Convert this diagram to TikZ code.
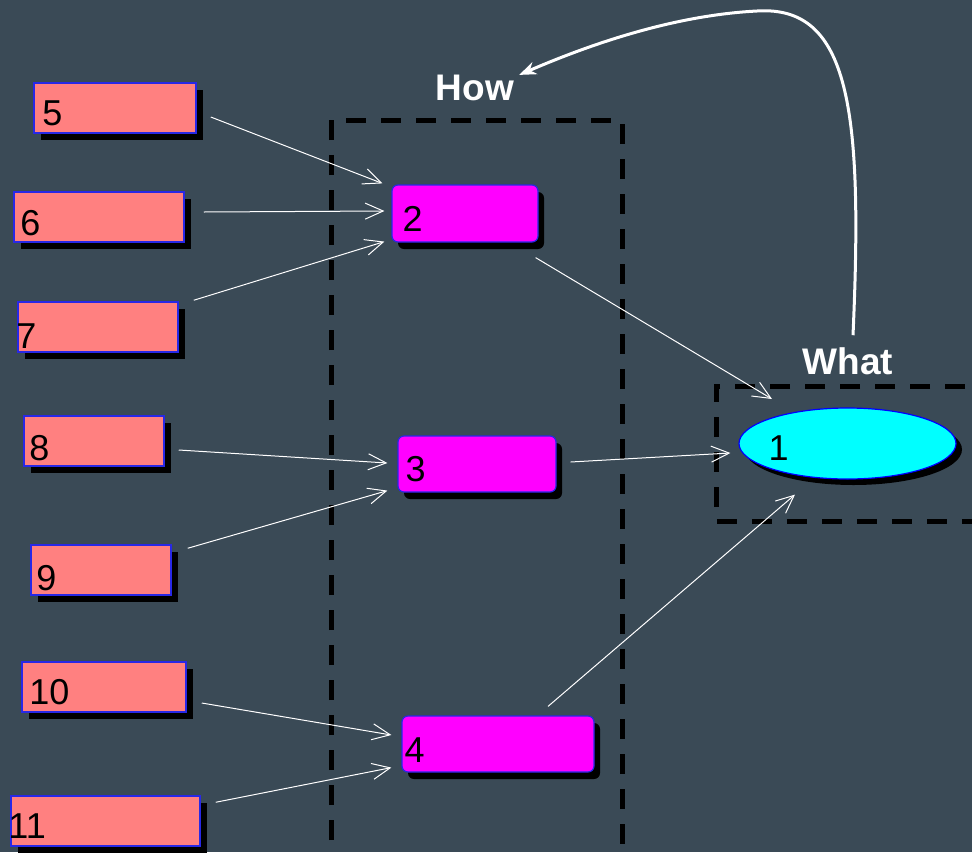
\documentclass[tikz,border=0pt]{standalone}
\usepackage{fontspec}
\setmainfont{Liberation Sans}
\usetikzlibrary{arrows.meta,calc,shadows,shapes.geometric}
\definecolor{bgcol}{RGB}{58,74,86}
\definecolor{salmon}{RGB}{255,128,128}
\definecolor{pink}{RGB}{255,0,255}
\definecolor{aqua}{RGB}{0,255,255}
\definecolor{edgeblue}{RGB}{40,40,230}
\tikzset{
  leafbox/.style={draw=edgeblue,line width=1.5pt,fill=salmon,inner sep=0pt,
    drop shadow={shadow xshift=7pt,shadow yshift=-7pt,fill=black,opacity=1}},
  midbox/.style={draw=edgeblue,line width=1.2pt,fill=pink,rounded corners=6pt,inner sep=0pt,
    drop shadow={shadow xshift=6pt,shadow yshift=-7pt,fill=black,opacity=1}},
  goal/.style={ellipse,draw=blue,line width=1.2pt,fill=aqua,inner sep=0pt,
    drop shadow={shadow xshift=6pt,shadow yshift=-6pt,fill=black,opacity=1}},
  num/.style={font=\fontsize{36}{40}\selectfont,text=black,inner sep=0pt,anchor=base west},
  head/.style={font=\fontsize{37}{42}\selectfont\bfseries,text=white,inner sep=0pt},
  link/.style={white,line width=1pt,-{Straight Barb[length=18pt,width=16pt,line width=1pt]}},
  group/.style={line width=5pt,dash pattern=on 20pt off 15pt,black},
}
\begin{document}
\begin{tikzpicture}[x=1pt,y=-1pt]
\useasboundingbox (0,0) rectangle (972,852);
\clip (0,0) rectangle (972,852);
\fill[bgcol] (0,0) rectangle (972,852);

% dashed grouping frames
\draw[group] (331,875) -- (331,120) -- (622,120) -- (622,875);
\draw[group] (1000,386) -- (716,386) -- (716,521) -- (1000,521);

% group headings
\node[head] (how) at (475,88) {How};
\node[head] (what) at (848,361) {What};

% leaf boxes
\node[leafbox,minimum width=162pt,minimum height=50pt,
  label={[num,xshift=9pt,yshift=8pt]south west:5}] (n5) at (115,108) {};
\node[leafbox,minimum width=170pt,minimum height=50pt,
  label={[num,xshift=7pt,yshift=7pt]south west:6}] (n6) at (99,217) {};
\node[leafbox,minimum width=160pt,minimum height=50pt,
  label={[num,xshift=-1pt,yshift=4pt]south west:7}] (n7) at (98,327) {};
\node[leafbox,minimum width=140pt,minimum height=50pt,
  label={[num,xshift=6pt,yshift=6pt]south west:8}] (n8) at (94,441) {};
\node[leafbox,minimum width=140pt,minimum height=50pt,
  label={[num,xshift=6pt,yshift=5pt]south west:9}] (n9) at (101,570) {};
\node[leafbox,minimum width=164pt,minimum height=50pt,
  label={[num,xshift=8pt,yshift=8pt]south west:10}] (n10) at (104,687) {};
\node[leafbox,minimum width=189pt,minimum height=50pt,
  label={[num,xshift=-2pt,yshift=8pt]south west:11}] (n11) at (105.5,821) {};

% middle boxes
\node[midbox,minimum width=146pt,minimum height=57pt,
  label={[num,xshift=11pt,yshift=11pt]south west:2}] (n2) at (465,213.5) {};
\node[midbox,minimum width=158pt,minimum height=56pt,
  label={[num,xshift=8pt,yshift=11pt]south west:3}] (n3) at (477,464) {};
\node[midbox,minimum width=192pt,minimum height=56pt,
  label={[num,xshift=3pt,yshift=10pt]south west:4}] (n4) at (498,744) {};

% goal ellipse
\node[goal,minimum width=217pt,minimum height=71pt] (n1) at (847.5,443.5) {};
\node[num] (t1) at ($(n1.west)+(30,16.5)$) {1};

% connectors
\draw[link] ($(n5.east)+(14,9)$) -- ($(n2.north west)+(-9,-1)$);
\draw[link] ($(n6.east)+(19,-5)$) -- ($(n2.west)+(-7,-2.5)$);
\draw[link] ($(n7.north east)+(15,-1)$) -- ($(n2.south west)+(-7,-1)$);
\draw[link] ($(n8.east)+(14,9)$) -- ($(n3.west)+(-10,-1)$);
\draw[link] ($(n9.north east)+(16,4)$) -- ($(n3.south west)+(-10,-2)$);
\draw[link] ($(n10.east)+(15,16)$) -- ($(n4.west)+(-10,-9)$);
\draw[link] ($(n11.north east)+(15,7)$) -- ($(n4.south west)+(-10,-5)$);
\draw[link] ($(n2.south east)+(-3,15)$) -- ($(n1.center)+(-75.5,-44.5)$);
\draw[link] ($(n3.east)+(14,-2)$) -- ($(n1.west)+(-8,9.5)$);
\draw[link] ($(n4.north)+(50,-9)$) -- ($(n1.south)+(-52.5,15)$);

% feedback arc from What back to How
\draw[white,line width=3pt,-{Stealth[length=17pt,width=13pt]}]
  ($(what.north)+(5,-12)$) .. controls (863,110) and (850,5) .. (757,11)
  .. controls (680,15) and (600,40) .. ($(how.north east)+(5,0)$);
\end{tikzpicture}
\end{document}
